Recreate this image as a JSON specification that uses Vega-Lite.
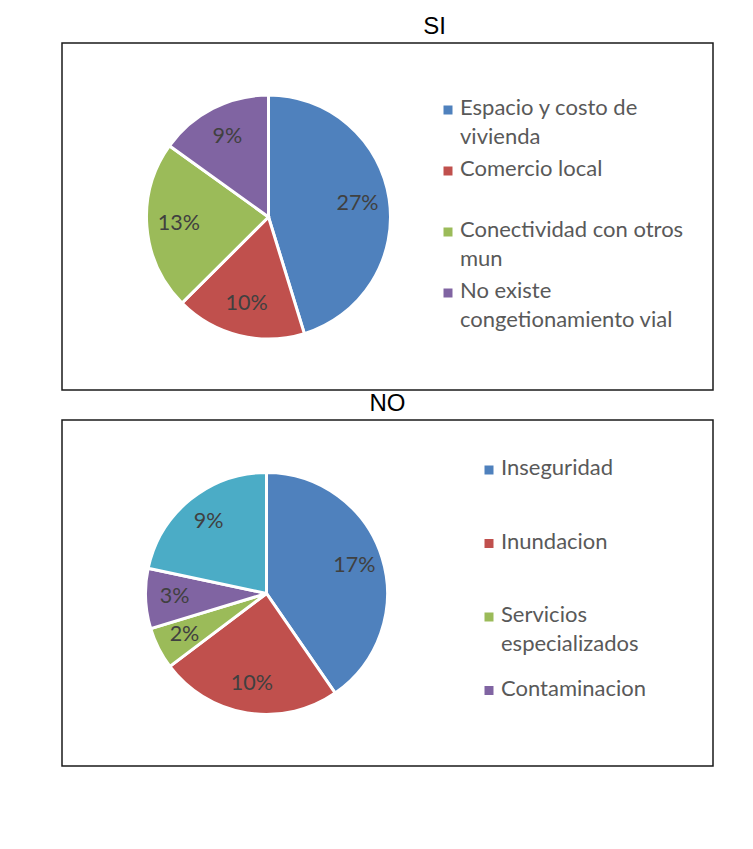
{
  "$schema": "https://vega.github.io/schema/vega-lite/v6.json",
  "padding": {"left": 61, "top": 14, "right": 0, "bottom": 0},
  "background": "white",
  "spacing": 0,
  "resolve": {"scale": {"color": "independent", "theta": "independent"}, "legend": {"color": "independent"}},
  "config": {
    "view": {"stroke": "#1a1a1a", "strokeWidth": 1.5},
    "title": {"font": "Liberation Sans", "fontSize": 24, "fontWeight": "normal", "color": "#000000", "offset": 0, "anchor": "middle"},
    "legend": {
      "orient": "none",
      "title": null,
      "padding": 0,
      "labelFont": "Lato",
      "labelFontSize": 22,
      "labelColor": "#595959",
      "labelLimit": 400,
      "labelOffset": 1,
      "symbolType": "square",
      "symbolSize": 81,
      "symbolStrokeWidth": 0,
      "labelBaseline": "top"
    },
    "style": {"guide-label": {"lineHeight": 29, "dy": -12}}
  },
  "vconcat": [
    {
      "title": {"text": "SI", "dx": 47},
      "width": 651,
      "height": 347,
      "data": {"values": [
        {"i": 1, "cat": "Espacio y costo de vivienda", "v": 0.267},
        {"i": 2, "cat": "Comercio local", "v": 0.102},
        {"i": 3, "cat": "Conectividad con otros mun", "v": 0.132},
        {"i": 4, "cat": "No existe congetionamiento vial", "v": 0.089}
      ]},
      "layer": [
        {
          "mark": {"type": "point", "opacity": 0},
          "encoding": {
            "x": {"field": "v", "type": "quantitative", "axis": null},
            "y": {"field": "v", "type": "quantitative", "axis": null}
          }
        },
        {
          "mark": {"type": "arc", "x": 206.5, "y": 174, "outerRadius": 122, "stroke": "#ffffff", "strokeWidth": 3},
          "encoding": {
            "theta": {"field": "v", "type": "quantitative", "stack": true},
            "order": {"field": "i", "type": "quantitative"},
            "color": {
              "field": "cat", "type": "nominal",
              "scale": {"domain": ["Espacio y costo de vivienda", "Comercio local", "Conectividad con otros mun", "No existe congetionamiento vial"], "range": ["#4F81BD", "#C0504D", "#9BBB59", "#8064A2"]},
              "legend": {
                "legendX": 375, "legendY": 56, "rowPadding": 10,
                "labelExpr": "datum.label == 'Espacio y costo de vivienda' ? ['Espacio y costo de', 'vivienda'] : datum.label == 'Comercio local' ? ['Comercio local', ' '] : datum.label == 'Conectividad con otros mun' ? ['Conectividad con otros', 'mun'] : ['No existe', 'congetionamiento vial']"
              }
            }
          }
        },
        {
          "mark": {"type": "text", "x": 206.5, "y": 174, "radius": 90, "font": "Lato", "fontSize": 21.5, "fill": "#404040"},
          "encoding": {
            "theta": {"field": "v", "type": "quantitative", "stack": true},
            "order": {"field": "i", "type": "quantitative"},
            "text": {"field": "v", "type": "quantitative", "format": ".0%"}
          }
        }
      ]
    },
    {
      "title": {"text": "NO"},
      "width": 651,
      "height": 346,
      "data": {"values": [
        {"i": 1, "cat": "Inseguridad", "v": 0.166},
        {"i": 2, "cat": "Inundacion", "v": 0.100},
        {"i": 3, "cat": "Servicios especializados", "v": 0.023},
        {"i": 4, "cat": "Contaminacion", "v": 0.033},
        {"i": 5, "cat": "Otros", "v": 0.089}
      ]},
      "layer": [
        {
          "mark": {"type": "point", "opacity": 0},
          "encoding": {
            "x": {"field": "v", "type": "quantitative", "axis": null},
            "y": {"field": "v", "type": "quantitative", "axis": null}
          }
        },
        {
          "mark": {"type": "arc", "x": 204.5, "y": 173.5, "outerRadius": 121, "stroke": "#ffffff", "strokeWidth": 3},
          "encoding": {
            "theta": {"field": "v", "type": "quantitative", "stack": true},
            "order": {"field": "i", "type": "quantitative"},
            "color": {
              "field": "cat", "type": "nominal",
              "scale": {"domain": ["Inseguridad", "Inundacion", "Servicios especializados", "Contaminacion", "Otros"], "range": ["#4F81BD", "#C0504D", "#9BBB59", "#8064A2", "#4BACC6"]},
              "legend": {
                "legendX": 416, "legendY": 39, "rowPadding": 22.5,
                "values": ["Inseguridad", "Inundacion", "Servicios especializados", "Contaminacion"],
                "labelExpr": "datum.label == 'Servicios especializados' ? ['Servicios', 'especializados'] : [datum.label, ' ']"
              }
            }
          }
        },
        {
          "mark": {"type": "text", "x": 204.5, "y": 173.5, "radius": 92, "font": "Lato", "fontSize": 21.5, "fill": "#404040"},
          "encoding": {
            "theta": {"field": "v", "type": "quantitative", "stack": true},
            "order": {"field": "i", "type": "quantitative"},
            "text": {"field": "v", "type": "quantitative", "format": ".0%"}
          }
        }
      ]
    }
  ]
}
